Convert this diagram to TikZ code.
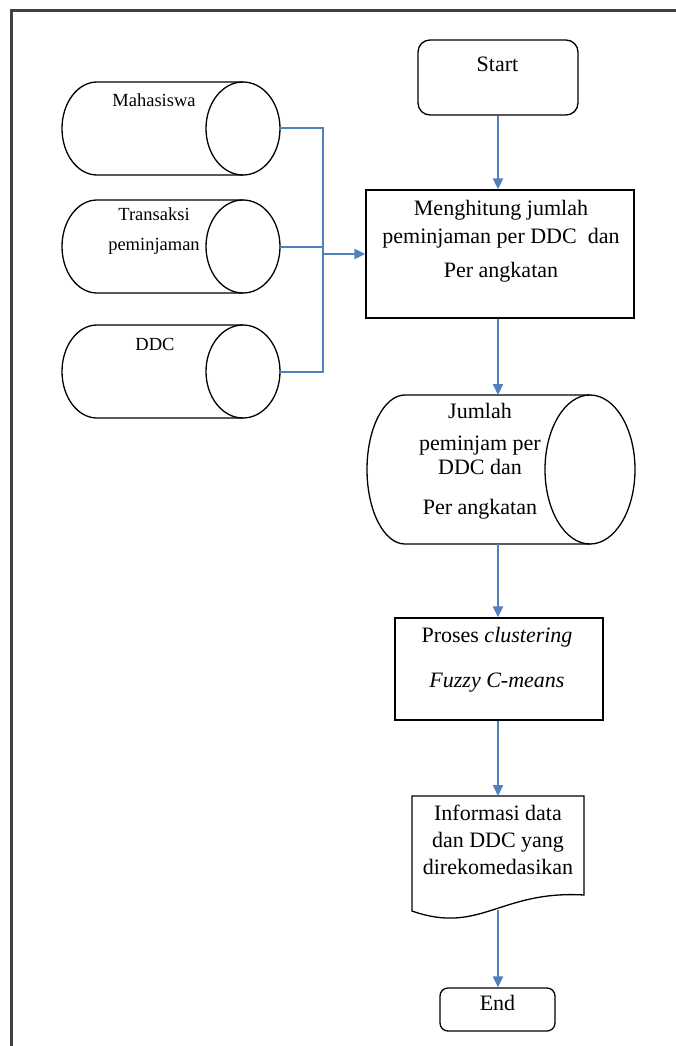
\documentclass[tikz,border=0pt]{standalone}
\usepackage{fontspec}
\setmainfont{Liberation Serif}
\usetikzlibrary{arrows.meta}
\definecolor{flowblue}{HTML}{4F81BD}
\definecolor{framegray}{HTML}{404040}
% drum (horizontal cylinder): left-end centre x, right-end centre x, centre y, left rx, right rx, ry
\newcommand\drumpath[6]{%
  \draw[shapeline] (#2,#3-#6) -- (#1,#3-#6)
    arc[start angle=270,end angle=90,x radius=#4,y radius=#6] -- (#2,#3+#6);
  \draw[shapeline] (#2,#3) ellipse [x radius=#5, y radius=#6];}
\begin{document}
\begin{tikzpicture}[x=1pt,y=-1pt,
  shapeline/.style={draw=black, line width=1.3pt},
  termbox/.style={shapeline, rounded corners=12pt, inner sep=0pt},
  procbox/.style={shapeline, inner sep=0pt},
  link/.style={draw=flowblue, line width=2pt},
  flow/.style={link, -{Triangle[length=11pt,width=10pt]}},
  bigtxt/.style={font=\fontsize{22}{28}\selectfont, inner sep=0pt, align=center},
  smalltxt/.style={font=\fontsize{18.5}{30}\selectfont, inner sep=0pt, align=center},
]
\useasboundingbox (0,0) rectangle (676,1046);
\fill[white] (0,0) rectangle (676,1046);
% page frame
\draw[framegray, line width=2.5pt] (11.5,1046) -- (11.5,10.5) -- (676,10.5);

% data sources (text nodes are placed by the baseline of their last line)
\drumpath{97}{243}{128.5}{35}{37}{46.5}
\drumpath{97}{243}{246.5}{35}{37}{46.5}
\drumpath{97}{243}{371.5}{35}{37}{46.5}
\node[smalltxt, anchor=base] (mhs) at (154,107) {Mahasiswa};
\node[smalltxt, anchor=base] (trx) at (154,250) {Transaksi\\peminjaman};
\node[smalltxt, anchor=base] (ddc) at (155,350) {DDC};
\coordinate (mhsout) at (280,128);
\coordinate (trxout) at (280,247);
\coordinate (ddcout) at (280,372);
\coordinate (bus) at (323,254);

% main flow
\node[termbox, minimum width=160pt, minimum height=75pt] (start) at (498,77.5) {};
\node[bigtxt, anchor=base] (starttxt) at (497.5,72) {Start};

\node[procbox, minimum width=268pt, minimum height=128pt] (count) at (500,254) {};
\node[bigtxt, anchor=base] (counttxt) at (501,277)
  {Menghitung jumlah\\peminjaman per DDC\ \ dan\\[6pt]Per angkatan};

\drumpath{405}{590}{469.5}{38}{45}{74.5}
\node[bigtxt, anchor=base] (storetxt) at (480,514)
  {Jumlah\\[4pt]peminjam per\\[-4pt]DDC dan\\[12pt]Per angkatan};
\coordinate (storetop) at (498,395);
\coordinate (storebot) at (498,544);

\node[procbox, minimum width=208pt, minimum height=102pt] (cluster) at (499,669) {};
\node[bigtxt, anchor=base] (clustertxt) at (497,687)
  {Proses \textit{clustering}\\[17pt]\textit{Fuzzy C-means}};

\draw[shapeline] (412,796) -- (584,796) -- (584,895)
  .. controls (500,890) and (480,935) .. (412,911) -- cycle;
\node[bigtxt, anchor=base, font=\fontsize{22}{27}\selectfont] (doctxt) at (498,874)
  {Informasi data\\dan DDC yang\\direkomedasikan};
\coordinate (doctop) at (498,796);
\coordinate (docbot) at (498,910);

\node[termbox, rounded corners=8pt, minimum width=115pt, minimum height=43pt] (finish) at (497.5,1009.5) {};
\node[bigtxt, anchor=base] (finishtxt) at (497.5,1010) {End};

% connectors
\draw[link] (mhsout) -- (mhsout -| bus) -- (ddcout -| bus) -- (ddcout);
\draw[link] (trxout) -- (trxout -| bus);
\draw[flow] (bus) -- (count.west);
\draw[flow] (start.south) -- (start.south |- count.north);
\draw[flow] (count.south -| storetop) -- (storetop);
\draw[flow] (storebot) -- (storebot |- cluster.north);
\draw[flow] (cluster.south -| doctop) -- (doctop);
\draw[flow] (docbot) -- (docbot |- finish.north);
\end{tikzpicture}
\end{document}
